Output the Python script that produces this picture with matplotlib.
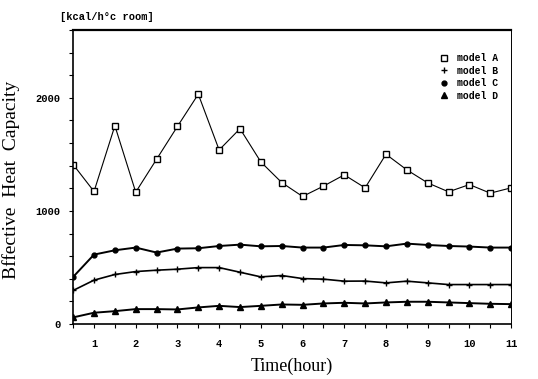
import numpy as np
import matplotlib
matplotlib.use('Agg')
import matplotlib.pyplot as plt

# 时间 (hour)
hours = [0.5, 1.0, 1.5, 2.0, 2.5, 3.0, 3.5, 4.0, 4.5, 5.0, 5.5,
         6.0, 6.5, 7.0, 7.5, 8.0, 8.5, 9.0, 9.5, 10.0, 10.5, 11.0]

# 有效热容量 [kcal/h°c room]
model_a = [1410, 1172, 1753, 1166, 1457, 1747, 2032, 1539, 1727, 1433, 1251,
           1128, 1219, 1319, 1204, 1501, 1363, 1248, 1169, 1233, 1157, 1204]
model_b = [297, 388, 438, 464, 476, 485, 499, 499, 458, 417, 429,
           402, 397, 379, 380, 364, 379, 364, 349, 349, 349, 349]
model_c = [417, 614, 652, 676, 632, 667, 670, 690, 702, 687, 690,
           676, 676, 699, 696, 687, 711, 699, 690, 685, 676, 676]
model_d = [59, 100, 114, 132, 132, 129, 147, 161, 150, 161, 173,
           170, 182, 188, 182, 191, 197, 197, 191, 185, 179, 176]

x_ticks = [1, 2, 3, 4, 5, 6, 7, 8, 9, 10, 11]
y_ticks = [0, 1000, 2000]

tick_font = {'family': 'Liberation Mono', 'weight': 'bold', 'size': 7.5}

fig = plt.figure(figsize=(5.38, 3.79), dpi=100)
ax = fig.add_axes([0.136, 0.145, 0.814, 0.776])

ax.plot(hours, model_a, 'k-', linewidth=0.8, marker='s', markersize=4.5,
        markerfacecolor='white', markeredgewidth=1.0, label='model A')
ax.plot(hours, model_b, 'k-', linewidth=1.2, marker='+', markersize=4,
        markeredgewidth=1.0, label='model B')
ax.plot(hours, model_c, 'k-', linewidth=1.4, marker='o', markersize=3.5,
        label='model C')
ax.plot(hours, model_d, 'k-', linewidth=1.4, marker='^', markersize=4,
        label='model D')

ax.set_xlim(0.5, 11)
ax.set_ylim(0, 2600)
ax.set_xticks(x_ticks)
ax.set_xticks(np.arange(0.5, 11.01, 0.5), minor=True)
ax.set_yticks(y_ticks)
ax.set_yticks(np.arange(0, 2601, 200), minor=True)
ax.set_xticklabels([str(t) for t in x_ticks], fontdict=tick_font)
ax.set_yticklabels([str(t) for t in y_ticks], fontdict=tick_font)

ax.tick_params(axis='both', which='both', direction='out', length=3, width=0.8,
               color='black', pad=6)
ax.tick_params(axis='x', which='major', pad=8)

ax.spines['top'].set_linewidth(1.6)
ax.spines['left'].set_linewidth(1.2)
ax.spines['bottom'].set_linewidth(1.2)
ax.spines['right'].set_linewidth(0.7)

ax.set_xlabel('Time(hour)', family='Liberation Serif', fontsize=13, labelpad=6)
ax.set_ylabel('Bffective  Heat  Capacity', family='Liberation Serif',
              fontsize=14)
ax.yaxis.set_label_coords(-0.122, 0.49)

fig.text(0.112, 0.955, '[kcal/h°c room]', family='Liberation Mono',
         weight='bold', fontsize=7.5, ha='left', va='center')

leg = ax.legend(loc='upper right', bbox_to_anchor=(0.99, 0.95), frameon=False,
                prop={'family': 'Liberation Mono', 'weight': 'bold', 'size': 7},
                handlelength=1.0, handletextpad=0.8, labelspacing=0.25)
for h in leg.legend_handles:
    h.set_linestyle('none')

fig.savefig('out.png', dpi=100)
